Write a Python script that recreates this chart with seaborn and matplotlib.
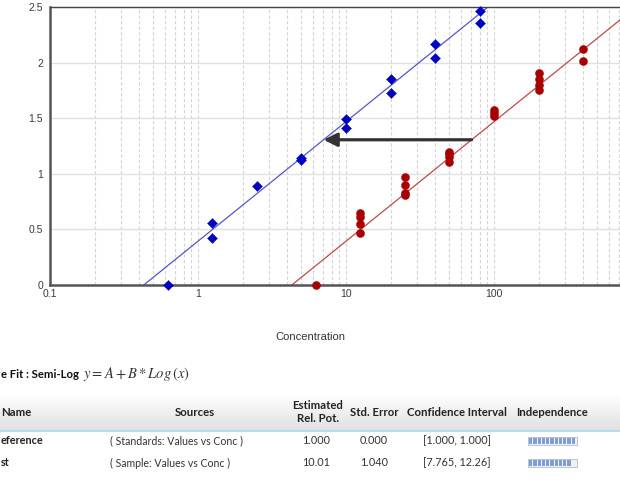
import numpy as np
import pandas as pd
import matplotlib
matplotlib.use("Agg")
import matplotlib.pyplot as plt
from matplotlib.patches import Rectangle
import seaborn as sns

# ---------------- data ----------------
std_conc = [0.625, 1.25, 1.25, 2.5, 5, 5, 10, 10, 20, 20, 40, 40, 80, 80]
std_resp = [0.00, 0.56, 0.42, 0.89, 1.14, 1.12, 1.49, 1.41, 1.85, 1.73, 2.17, 2.04, 2.46, 2.36]

smp_conc = [6.25,
            12.5, 12.5, 12.5, 12.5,
            25, 25, 25, 25,
            50, 50, 50, 50,
            100, 100, 100,
            200, 200, 200, 200,
            400, 400]
smp_resp = [0.00,
            0.65, 0.61, 0.55, 0.47,
            0.97, 0.90, 0.83, 0.81,
            1.20, 1.18, 1.15, 1.11,
            1.57, 1.55, 1.52,
            1.91, 1.85, 1.80, 1.75,
            2.12, 2.01]

# semi-log parallel-line fit  y = A + B*log10(x)
fit_A = 0.394
fit_B = 1.075
rel_pot = 10.01
arrow_y = 1.306

x_ticks = [0.1, 1, 10, 100]
x_ticklabels = ["0.1", "1", "10", "100"]
y_ticks = [0, 0.5, 1, 1.5, 2, 2.5]
y_ticklabels = ["0", "0.5", "1", "1.5", "2", "2.5"]

fit_title = "e Fit : Semi-Log"
fit_formula = r"$y = A + B * Log\,(x)$"
col_headers = ["Name", "Sources", "Estimated\nRel. Pot.", "Std. Error",
               "Confidence Interval", "Independence"]
row_names = ["eference", "st"]
row_sources = ["( Standards: Values vs Conc )", "( Sample: Values vs Conc )"]
row_relpot = ["1.000", "10.01"]
row_stderr = ["0.000", "1.040"]
row_ci = ["[1.000, 1.000]", "[7.765, 12.26]"]
row_indep = [1.0, 0.9]

# ---------------- figure ----------------
sns.set_theme(style="white")
plt.rcParams["font.family"] = ["Liberation Sans", "DejaVu Sans"]

W, H = 620, 480
fig = plt.figure(figsize=(W / 100, H / 100), dpi=100)
fig.patch.set_facecolor("white")

def fx(px):
    return px / W

def fy(py):
    return 1 - py / H

ax = fig.add_axes([fx(50), fy(285), fx(592), 278 / H])
ax.set_xscale("log")
ax.set_xlim(0.1, 1000)
ax.set_ylim(0, 2.5)

# grid
ax.set_xticks(x_ticks)
ax.set_xticklabels(x_ticklabels)
ax.set_xticks([m * 10.0 ** e for e in range(-1, 3) for m in range(2, 10)], minor=True)
ax.xaxis.grid(True, which="both", color="#d4d4d4", linestyle=(0, (3, 2)), linewidth=0.8)
ax.set_yticks(y_ticks)
ax.set_yticklabels(y_ticklabels)
ax.yaxis.grid(True, color="#e0e0e0", linestyle="-", linewidth=1.0)
ax.set_axisbelow(True)

ax.tick_params(axis="both", which="both", length=0, labelsize=7.5, labelcolor="#3a3a3a")
ax.tick_params(axis="x", pad=3)
ax.tick_params(axis="y", pad=5)

for s in ["left", "bottom"]:
    ax.spines[s].set_color("#555555")
    ax.spines[s].set_linewidth(1.8)
ax.spines["top"].set_color("#444444")
ax.spines["top"].set_linewidth(1.0)
ax.spines["right"].set_visible(False)

# fit lines
xs = np.logspace(-1, 3, 400)
ax.plot(xs, fit_A + fit_B * np.log10(xs), color="#5555cc", lw=0.9, zorder=2)
ax.plot(xs, fit_A + fit_B * np.log10(xs / rel_pot), color="#c04848", lw=0.9, zorder=2)

# points
df_std = pd.DataFrame({"conc": std_conc, "resp": std_resp})
df_smp = pd.DataFrame({"conc": smp_conc, "resp": smp_resp})
sns.scatterplot(data=df_std, x="conc", y="resp", ax=ax, marker="D", s=26,
                color="#0000c0", edgecolor="#0000c0", linewidth=0.3, zorder=4, clip_on=False)
sns.scatterplot(data=df_smp, x="conc", y="resp", ax=ax, marker="o", s=34,
                color="#a80000", edgecolor="#a80000", linewidth=0.3, zorder=4, clip_on=False)
ax.set_xlabel("")
ax.set_ylabel("")

# arrow from sample line to reference line
x_red = rel_pot * 10 ** ((arrow_y - fit_A) / fit_B)
x_blue = 10 ** ((arrow_y - fit_A) / fit_B)
ax.annotate("", xy=(x_blue, arrow_y), xytext=(x_red, arrow_y),
            arrowprops=dict(arrowstyle="-|>", color="#333333", lw=2.3,
                            mutation_scale=20, shrinkA=0, shrinkB=0), zorder=5)

# x label
fig.text(fx(310), fy(337), "Concentration", ha="center", va="center",
         fontsize=8, color="#333333")

# fit header
narrow = ["Lato", "Liberation Sans", "DejaVu Sans"]
fig.text(fx(1), fy(375), fit_title, ha="left", va="center", fontsize=8.2,
         fontweight="bold", family=narrow, color="#111111")
fig.text(fx(83), fy(374), fit_formula, ha="left", va="center", fontsize=10.5,
         color="#333333", math_fontfamily="stix")

# table header band (gradient)
grad = np.linspace(1.0, 0.88, 64).reshape(-1, 1)
hax = fig.add_axes([0, fy(430), 1, (430 - 394) / H])
hax.imshow(np.dstack([grad, grad, grad]), aspect="auto", extent=[0, 1, 0, 1],
           interpolation="bicubic")
hax.set_axis_off()
fig.add_artist(plt.Line2D([0, 1], [fy(430.5), fy(430.5)], color="#b8dcef", lw=1.5))

hdr_x = [1, 195, 318, 374, 457, 552]
for i, (h, px) in enumerate(zip(col_headers, hdr_x)):
    fig.text(fx(px), fy(412), h, ha="left" if i == 0 else "center", va="center",
             fontsize=8.2, fontweight="bold", family=narrow, color="#222222",
             linespacing=1.15)

row_y = [441, 463]
for r in range(2):
    y = fy(row_y[r])
    fig.text(fx(1), y, row_names[r], ha="left", va="center", fontsize=7.8,
             fontweight="bold", family=narrow, color="#222222")
    fig.text(fx(110), y, row_sources[r], ha="left", va="center", fontsize=7.6,
             family=narrow, color="#333333")
    fig.text(fx(316), y, row_relpot[r], ha="center", va="center", fontsize=7.8,
             family=narrow, color="#333333")
    fig.text(fx(374), y, row_stderr[r], ha="center", va="center", fontsize=7.8,
             family=narrow, color="#333333")
    fig.text(fx(457), y, row_ci[r], ha="center", va="center", fontsize=7.8,
             family=narrow, color="#333333")
    # independence bar
    bx, bw, bh = 528, 49, 8
    fig.add_artist(Rectangle((fx(bx), fy(row_y[r] + bh / 2)), fx(bw), bh / H,
                             facecolor="#eef2f8", edgecolor="#b0b8c8", lw=0.6))
    nseg = 11
    nfill = int(round(nseg * row_indep[r]))
    for k in range(nfill):
        fig.add_artist(Rectangle((fx(bx + 1 + k * (bw - 2) / nseg), fy(row_y[r] + bh / 2 - 1)),
                                 fx((bw - 2) / nseg - 1), (bh - 2) / H,
                                 facecolor="#7f9fd4", edgecolor="none"))

fig.savefig("out.png", dpi=100)
